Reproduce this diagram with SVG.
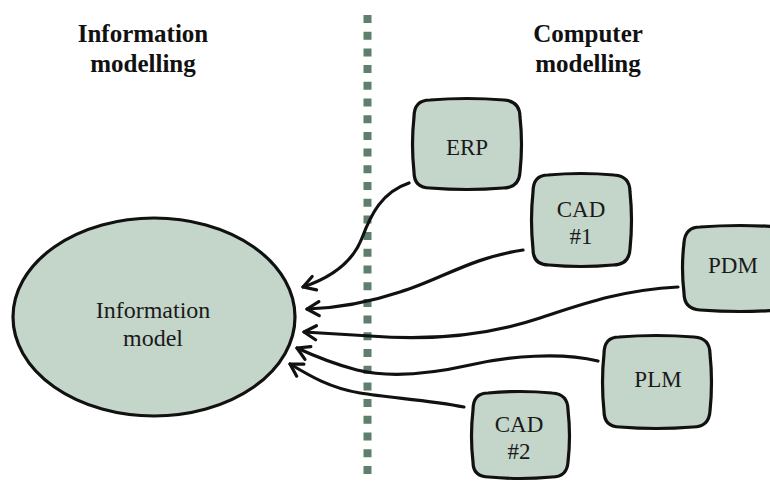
<svg xmlns="http://www.w3.org/2000/svg" width="770" height="482" viewBox="0 0 770 482">
  <style>
    .shape { fill: #c4d5ca; stroke: #111; stroke-width: 3.2; stroke-linejoin: round; }
    .lbl { font-family: "Liberation Serif", "Times New Roman", serif; font-size: 23px; fill: #1a1a1a; text-anchor: middle; }
    .big { font-size: 24px; }
    .title { font-family: "Liberation Serif", "Times New Roman", serif; font-size: 25px; font-weight: bold; fill: #111; text-anchor: middle; }
    .link { fill: none; stroke: #111; stroke-width: 3.2; stroke-linecap: round; marker-end: url(#vhead); }
    .divider { stroke: #5d7f6c; stroke-width: 8; stroke-dasharray: 8 8.7; }
  </style>
  <defs>
    <marker id="vhead" viewBox="-14 -9 16 18" markerWidth="16" markerHeight="18" refX="0" refY="0" orient="auto" markerUnits="userSpaceOnUse">
      <path d="M-12,-7 L0,0 L-12,7" fill="none" stroke="#111" stroke-width="3.2" stroke-linecap="round" stroke-linejoin="round"/>
    </marker>
  </defs>

  <rect width="770" height="482" fill="#fff"/>

  <!-- column divider -->
  <line class="divider" x1="367.5" y1="15" x2="367.5" y2="482"/>

  <!-- column headings -->
  <g id="heading-left">
    <text class="title" x="143" y="42">Information</text>
    <text class="title" x="143" y="72">modelling</text>
  </g>
  <g id="heading-right">
    <text class="title" x="588" y="42">Computer</text>
    <text class="title" x="588" y="72">modelling</text>
  </g>

  <!-- central model -->
  <g id="information-model">
    <ellipse class="shape" cx="154" cy="317" rx="141" ry="99"/>
    <text class="lbl big" x="153" y="318">Information</text>
    <text class="lbl big" x="153" y="346">model</text>
  </g>

  <!-- source systems -->
  <g id="erp">
    <path class="shape" d="M430,100 Q467,97 504,100 Q520,101 520,117 Q523,144 520,172 Q519,188 503,188 Q467,191 430,188 Q414,188 414,172 Q411,144 414,117 Q414,100 430,100 Z"/>
    <text class="lbl" x="467" y="155">ERP</text>
  </g>
  <g id="cad1">
    <path class="shape" d="M548,175 Q581,172 614,175 Q630,176 630,192 Q633,220 630,249 Q629,265 613,265 Q581,268 549,265 Q533,265 533,249 Q530,220 533,192 Q533,175 548,175 Z"/>
    <text class="lbl" x="581" y="217">CAD</text>
    <text class="lbl" x="581" y="244">#1</text>
  </g>
  <g id="pdm">
    <path class="shape" d="M700,227 Q740,224 780,227 L780,310 Q740,313 700,310 Q684,309 684,293 Q681,268 684,243 Q685,227 700,227 Z"/>
    <text class="lbl" x="733" y="273">PDM</text>
  </g>
  <g id="plm">
    <path class="shape" d="M619,337 Q656,334 694,337 Q710,338 710,354 Q713,382 710,411 Q709,427 693,427 Q656,430 620,427 Q604,427 604,411 Q601,382 604,354 Q604,337 619,337 Z"/>
    <text class="lbl" x="658" y="387">PLM</text>
  </g>
  <g id="cad2">
    <path class="shape" d="M488,393 Q520,390 552,393 Q568,394 568,410 Q571,436 568,462 Q567,477 552,477 Q520,480 489,477 Q473,477 473,462 Q470,436 473,410 Q473,393 488,393 Z"/>
    <text class="lbl" x="519" y="432">CAD</text>
    <text class="lbl" x="519" y="459">#2</text>
  </g>

  <!-- data flows into the model -->
  <g id="connectors">
    <path class="link" d="M409,183 C382,192 371,214 362,238 C352,264 330,278 303,287"/>
    <path class="link" d="M523,250 C470,258 440,280 400,292 C370,302 340,308 307,309"/>
    <path class="link" d="M678,287 C620,290 580,305 540,318 C480,338 420,340 370,336 C340,334 320,333 304,332"/>
    <path class="link" d="M598,361 C560,352 510,356 470,365 C430,374 390,378 357,370 C330,363 310,354 297,348"/>
    <path class="link" d="M464,407 C430,400 390,398 360,393 C330,388 310,376 290,364"/>
  </g>
</svg>
